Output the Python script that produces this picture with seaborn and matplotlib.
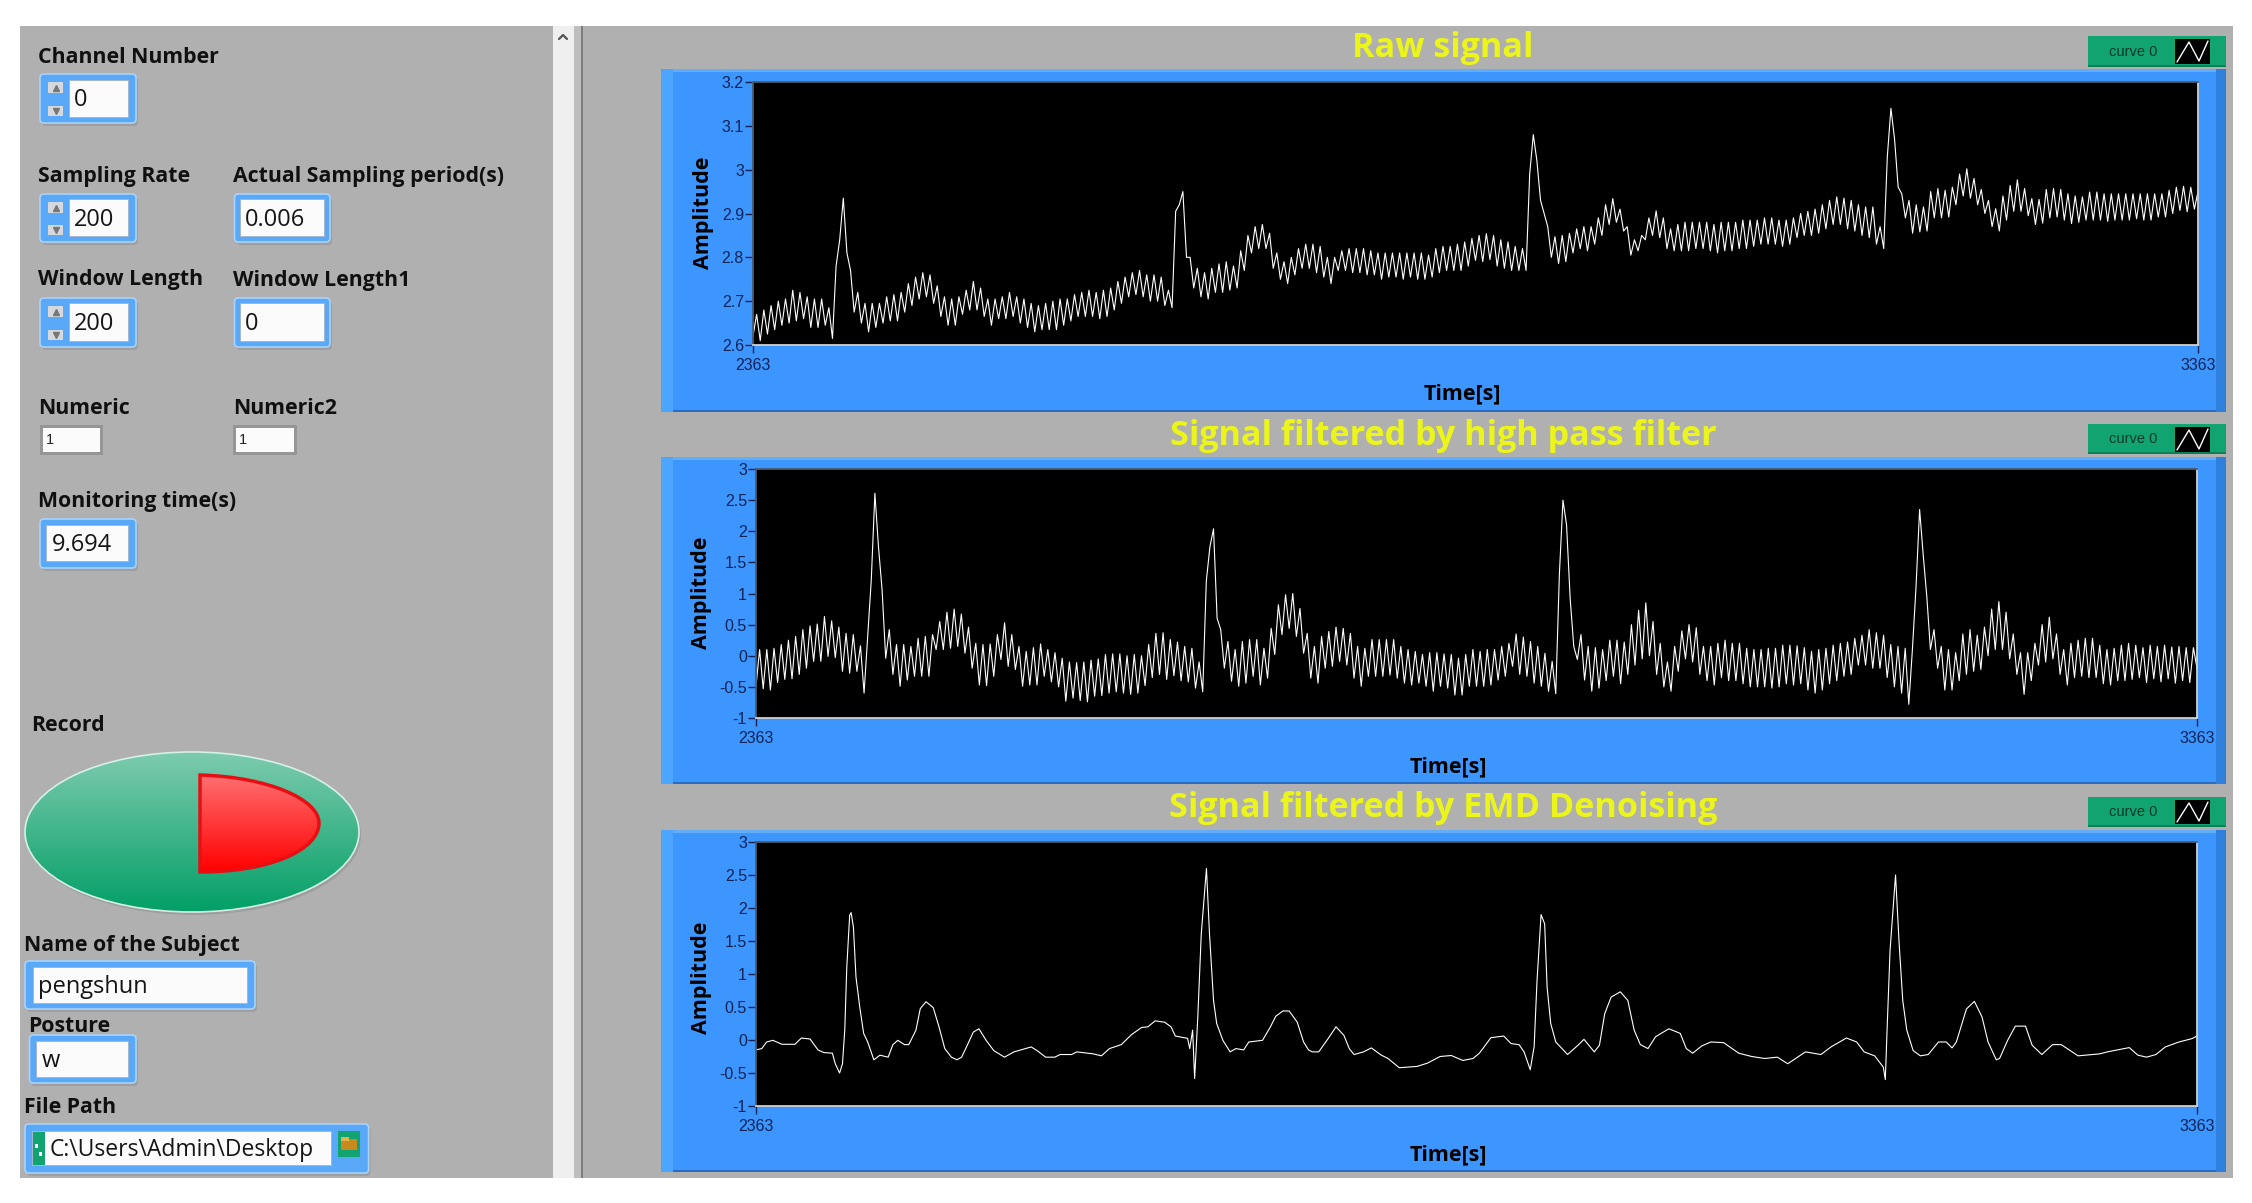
import numpy as np
import pandas as pd
import matplotlib
matplotlib.use("Agg")
import matplotlib.pyplot as plt
import seaborn as sns
from matplotlib.patches import Rectangle, FancyBboxPatch, Ellipse, PathPatch
from matplotlib.path import Path

sns.set_style("ticks")
plt.rcParams['font.family'] = ['Open Sans', 'DejaVu Sans']

W, H = 2252, 1203

# samples of the raw signal, evenly spaced over the time axis
raw_signal = [
    2.62, 2.67, 2.61, 2.68, 2.625, 2.69, 2.635, 2.70, 2.645, 2.705, 2.65, 2.725, 2.655, 2.72, 2.66, 2.71, 2.64, 2.705, 2.64, 2.705,
    2.645, 2.685, 2.615, 2.78, 2.84, 2.935, 2.81, 2.77, 2.675, 2.72, 2.65, 2.695, 2.63, 2.695, 2.64, 2.695, 2.65, 2.71, 2.655, 2.715,
    2.655, 2.72, 2.675, 2.74, 2.69, 2.755, 2.705, 2.765, 2.71, 2.76, 2.695, 2.735, 2.665, 2.71, 2.645, 2.705, 2.645, 2.71, 2.67, 2.725,
    2.68, 2.745, 2.68, 2.73, 2.665, 2.705, 2.645, 2.705, 2.66, 2.71, 2.66, 2.72, 2.665, 2.71, 2.65, 2.705, 2.64, 2.695, 2.63, 2.69,
    2.635, 2.695, 2.635, 2.70, 2.635, 2.705, 2.645, 2.705, 2.655, 2.715, 2.665, 2.72, 2.665, 2.725, 2.665, 2.72, 2.66, 2.725, 2.665, 2.73,
    2.68, 2.745, 2.695, 2.755, 2.71, 2.765, 2.715, 2.77, 2.71, 2.76, 2.70, 2.76, 2.70, 2.755, 2.69, 2.725, 2.685, 2.905, 2.92, 2.95,
    2.80, 2.80, 2.73, 2.775, 2.71, 2.765, 2.705, 2.775, 2.72, 2.785, 2.72, 2.79, 2.725, 2.78, 2.73, 2.815, 2.77, 2.85, 2.81, 2.87,
    2.82, 2.875, 2.82, 2.855, 2.775, 2.81, 2.75, 2.79, 2.74, 2.80, 2.76, 2.82, 2.775, 2.83, 2.775, 2.83, 2.765, 2.825, 2.755, 2.80,
    2.74, 2.80, 2.77, 2.815, 2.77, 2.82, 2.765, 2.82, 2.765, 2.82, 2.76, 2.815, 2.76, 2.81, 2.75, 2.81, 2.755, 2.81, 2.755, 2.81,
    2.75, 2.81, 2.755, 2.81, 2.75, 2.81, 2.75, 2.805, 2.755, 2.82, 2.765, 2.825, 2.77, 2.825, 2.77, 2.83, 2.77, 2.835, 2.78, 2.843,
    2.793, 2.85, 2.79, 2.854, 2.795, 2.85, 2.78, 2.84, 2.775, 2.835, 2.77, 2.825, 2.77, 2.82, 2.77, 2.99, 3.08, 3.02, 2.93, 2.90,
    2.87, 2.80, 2.847, 2.786, 2.85, 2.79, 2.855, 2.81, 2.865, 2.82, 2.87, 2.815, 2.87, 2.83, 2.89, 2.85, 2.92, 2.875, 2.934, 2.88,
    2.91, 2.86, 2.87, 2.805, 2.84, 2.815, 2.85, 2.84, 2.89, 2.85, 2.906, 2.845, 2.89, 2.82, 2.865, 2.815, 2.875, 2.815, 2.88, 2.815,
    2.88, 2.82, 2.88, 2.82, 2.88, 2.815, 2.875, 2.81, 2.88, 2.815, 2.88, 2.815, 2.88, 2.82, 2.885, 2.82, 2.885, 2.825, 2.885, 2.83,
    2.89, 2.83, 2.89, 2.83, 2.885, 2.825, 2.885, 2.83, 2.89, 2.845, 2.90, 2.85, 2.905, 2.85, 2.91, 2.855, 2.92, 2.865, 2.93, 2.875,
    2.938, 2.875, 2.935, 2.865, 2.93, 2.86, 2.92, 2.85, 2.915, 2.845, 2.915, 2.83, 2.87, 2.82, 3.03, 3.14, 3.07, 2.96, 2.945, 2.89,
    2.93, 2.855, 2.92, 2.858, 2.915, 2.86, 2.95, 2.89, 2.957, 2.89, 2.953, 2.892, 2.96, 2.92, 2.99, 2.94, 3.002, 2.935, 2.98, 2.92,
    2.955, 2.90, 2.93, 2.87, 2.911, 2.86, 2.94, 2.885, 2.964, 2.905, 2.977, 2.905, 2.957, 2.895, 2.934, 2.875, 2.932, 2.878, 2.955, 2.89,
    2.957, 2.892, 2.955, 2.885, 2.945, 2.877, 2.94, 2.88, 2.938, 2.885, 2.949, 2.885, 2.949, 2.885, 2.945, 2.882, 2.945, 2.885, 2.945, 2.885,
    2.945, 2.885, 2.945, 2.888, 2.945, 2.885, 2.945, 2.885, 2.945, 2.892, 2.945, 2.892, 2.953, 2.90, 2.96, 2.907, 2.962, 2.904, 2.96, 2.91,
    2.95,
]

# samples after the high pass filter
highpass_signal = [
    -0.49, 0.10, -0.53, 0.10, -0.55, 0.12, -0.43, 0.18, -0.38, 0.25, -0.37, 0.31, -0.30, 0.42, -0.20, 0.48, -0.09, 0.51, -0.09, 0.63,
    -0.01, 0.56, -0.03, 0.46, -0.25, 0.36, -0.28, 0.34, -0.25, 0.16, -0.60, 0.31, 1.22, 2.61, 1.75, 1.06, -0.04, 0.42, -0.30, 0.18,
    -0.49, 0.18, -0.39, 0.15, -0.33, 0.28, -0.33, 0.31, -0.33, 0.34, 0.10, 0.55, 0.10, 0.70, 0.12, 0.75, 0.15, 0.67, 0.04, 0.46,
    -0.20, 0.20, -0.47, 0.18, -0.48, 0.19, -0.33, 0.34, -0.06, 0.53, -0.17, 0.34, -0.22, 0.15, -0.49, 0.07, -0.47, 0.13, -0.47, 0.19,
    -0.33, 0.10, -0.42, 0.05, -0.50, -0.04, -0.73, -0.10, -0.68, -0.11, -0.72, -0.10, -0.74, -0.07, -0.65, -0.05, -0.64, 0.02, -0.60, 0.03,
    -0.58, 0.03, -0.60, 0.00, -0.62, 0.02, -0.60, 0.00, -0.48, 0.18, -0.35, 0.36, -0.30, 0.37, -0.38, 0.26, -0.32, 0.22, -0.40, 0.15,
    -0.42, 0.12, -0.52, -0.10, -0.58, 1.20, 1.75, 2.04, 0.60, 0.42, -0.20, 0.23, -0.41, 0.10, -0.49, 0.23, -0.44, 0.26, -0.33, 0.26,
    -0.47, 0.12, -0.36, 0.44, 0.02, 0.82, 0.34, 0.98, 0.44, 1.00, 0.31, 0.76, 0.04, 0.36, -0.36, 0.15, -0.44, 0.31, -0.20, 0.39,
    -0.17, 0.46, -0.09, 0.44, -0.15, 0.36, -0.36, 0.15, -0.49, 0.12, -0.33, 0.26, -0.33, 0.26, -0.33, 0.26, -0.31, 0.26, -0.36, 0.15,
    -0.44, 0.10, -0.47, 0.07, -0.44, 0.02, -0.49, 0.05, -0.57, 0.05, -0.49, 0.03, -0.52, 0.02, -0.63, -0.04, -0.63, 0.02, -0.49, 0.10,
    -0.49, 0.07, -0.49, 0.10, -0.47, 0.10, -0.39, 0.15, -0.33, 0.20, -0.17, 0.35, -0.30, 0.30, -0.33, 0.23, -0.44, 0.15, -0.49, 0.04,
    -0.57, -0.09, -0.61, 1.30, 2.50, 2.10, 0.92, 0.15, -0.06, 0.34, -0.39, 0.15, -0.57, 0.13, -0.52, 0.10, -0.40, 0.25, -0.33, 0.25,
    -0.45, 0.22, -0.30, 0.50, -0.15, 0.73, -0.05, 0.85, 0.00, 0.55, -0.30, 0.20, -0.50, -0.10, -0.57, 0.15, -0.25, 0.40, -0.05, 0.50,
    -0.10, 0.45, -0.30, 0.15, -0.40, 0.15, -0.47, 0.20, -0.35, 0.25, -0.40, 0.20, -0.40, 0.20, -0.45, 0.12, -0.50, 0.10, -0.50, 0.10,
    -0.50, 0.12, -0.52, 0.12, -0.50, 0.17, -0.45, 0.17, -0.47, 0.16, -0.45, 0.13, -0.55, 0.07, -0.60, 0.10, -0.55, 0.12, -0.45, 0.17,
    -0.40, 0.20, -0.33, 0.22, -0.30, 0.28, -0.15, 0.33, -0.15, 0.42, -0.20, 0.37, -0.20, 0.33, -0.35, 0.18, -0.50, 0.15, -0.60, 0.12,
    -0.78, 0.10, 1.10, 2.35, 1.62, 0.95, 0.10, 0.42, -0.20, 0.15, -0.55, 0.10, -0.55, 0.05, -0.40, 0.35, -0.30, 0.42, -0.25, 0.33,
    -0.22, 0.46, 0.00, 0.75, 0.10, 0.87, 0.10, 0.70, -0.05, 0.35, -0.30, 0.05, -0.62, 0.05, -0.40, 0.20, -0.15, 0.50, -0.10, 0.62,
    -0.05, 0.35, -0.30, 0.10, -0.47, 0.20, -0.35, 0.25, -0.33, 0.28, -0.35, 0.28, -0.35, 0.17, -0.45, 0.10, -0.47, 0.12, -0.40, 0.17,
    -0.40, 0.20, -0.38, 0.17, -0.35, 0.13, -0.43, 0.17, -0.37, 0.15, -0.42, 0.17, -0.37, 0.14, -0.44, 0.15, -0.40, 0.13, -0.43, 0.13,
    -0.20,
]

# EMD output, read as offset from the start of the axis and amplitude
emd_offset = [
    0, 4, 7.4, 11.7, 18, 27, 31.5, 37.5, 43, 47, 53, 55, 58, 60, 61.6, 63, 65, 66, 67.6, 69.4,
    72, 74.7, 77.5, 81.8, 86, 91.7, 95, 98.4, 103, 106, 111, 114, 118, 123, 127, 131, 135.6, 139.5, 142.7, 146.6,
    150.8, 154.7, 159.7, 165, 172.4, 179, 191, 195, 201, 207.4, 211, 219, 222.7, 234, 239.7, 245.3, 253.5, 260.5, 267.6, 272,
    277, 283.5, 288, 291, 299.5, 301, 303, 304.4, 306.6, 309, 312.6, 314.7, 317.5, 319.7, 324, 329, 333, 338.4, 342, 351.5,
    357, 360.7, 365.7, 370, 375.6, 380, 383.4, 386, 390.5, 397, 402.5, 408, 411.7, 415, 421.6, 427, 434, 438.6, 446.4, 458.8,
    466, 474.7, 482.5, 490.5, 497.6, 502, 510, 518.9, 524, 529.5, 533, 537.3, 540, 542, 544.8, 547.3, 549, 551.5, 555, 563.2,
    570.4, 574.6, 581.7, 585.3, 589, 593.4, 599.8, 605, 609.4, 613.7, 619, 624.3, 633.5, 641.4, 645.6, 650, 656.3, 662.6, 671.5, 682,
    691, 700, 708.8, 716, 728.3, 739, 746, 756.7, 763.8, 769, 776.3, 782.3, 783.7, 785, 787, 790.8, 793.3, 795.8, 798.6, 803,
    808, 813.5, 820.6, 826, 830, 833, 840, 845.5, 850.8, 855, 860.7, 863, 868.6, 873.9, 881, 885.6, 892.3, 899.8, 905.8, 917.5,
    932.5, 937.8, 953, 959, 965, 971.5, 978, 987.5, 996.4, 1000,
]
emd_signal = [
    -0.15, -0.13, -0.03, -0.005, -0.065, -0.065, 0.03, 0.015, -0.15, -0.19, -0.20, -0.36, -0.50, -0.36, 0.15, 1.10, 1.89, 1.93, 1.71, 0.95,
    0.50, 0.10, -0.03, -0.30, -0.23, -0.26, -0.07, -0.005, -0.07, -0.07, 0.15, 0.475, 0.58, 0.49, 0.20, -0.13, -0.26, -0.30, -0.26, -0.08,
    0.12, 0.17, -0.005, -0.16, -0.26, -0.18, -0.105, -0.16, -0.26, -0.26, -0.22, -0.22, -0.18, -0.21, -0.24, -0.13, -0.07, 0.08, 0.19, 0.20,
    0.29, 0.27, 0.20, 0.06, 0.025, -0.13, 0.15, -0.585, 0.35, 1.61, 2.60, 1.61, 0.60, 0.25, -0.005, -0.18, -0.13, -0.15, -0.03, -0.005,
    0.20, 0.36, 0.44, 0.44, 0.27, -0.03, -0.15, -0.18, -0.18, 0.02, 0.20, 0.07, -0.13, -0.22, -0.18, -0.12, -0.23, -0.28, -0.42, -0.40,
    -0.35, -0.25, -0.235, -0.31, -0.28, -0.20, 0.035, 0.06, -0.055, -0.07, -0.18, -0.45, -0.10, 0.90, 1.90, 1.76, 0.80, 0.25, -0.03, -0.22,
    -0.08, 0.01, -0.18, -0.08, 0.40, 0.65, 0.73, 0.60, 0.15, -0.07, -0.13, 0.05, 0.17, 0.10, -0.13, -0.20, -0.09, -0.03, -0.04, -0.20,
    -0.25, -0.28, -0.26, -0.36, -0.18, -0.22, -0.105, 0.03, -0.03, -0.18, -0.24, -0.41, -0.60, 0.20, 1.36, 2.50, 1.46, 0.60, 0.15, -0.16,
    -0.24, -0.22, -0.03, -0.03, -0.12, -0.03, 0.47, 0.585, 0.35, -0.03, -0.30, -0.28, -0.005, 0.21, 0.21, -0.08, -0.22, -0.07, -0.07, -0.24,
    -0.21, -0.18, -0.115, -0.23, -0.26, -0.22, -0.105, -0.03, 0.02, 0.06,
]

time_start = 2363
time_end = 3363
raw_ticks = [2.6, 2.7, 2.8, 2.9, 3, 3.1, 3.2]
raw_tick_labels = ['2.6', '2.7', '2.8', '2.9', '3', '3.1', '3.2']
filt_ticks = [-1, -0.5, 0, 0.5, 1, 1.5, 2, 2.5, 3]
filt_tick_labels = ['-1', '-0.5', '0', '0.5', '1', '1.5', '2', '2.5', '3']

titles = ['Raw signal', 'Signal filtered by high pass filter', 'Signal filtered by EMD Denoising']

GRAY = '#b0b0b0'
BLUE = '#3c96fd'
NAVY = '#0f2358'
YELLOW = '#ecf51a'
GREEN = '#12a470'
LABEL_KW = dict(family=['Open Sans', 'DejaVu Sans'], fontsize=15.3, fontweight='bold', color='#101010', va='center')
VALUE_KW = dict(family=['Open Sans', 'DejaVu Sans'], fontsize=17, color='#151515', va='center')

fig = plt.figure(figsize=(W / 100, H / 100), dpi=100, facecolor='white')

# full figure layer in pixel units for the panel widgets
bg = fig.add_axes([0, 0, 1, 1], zorder=0)
bg.set_xlim(0, W)
bg.set_ylim(H, 0)
bg.axis('off')


def rect(x0, y0, x1, y1, color, z=1, **kw):
    bg.add_patch(Rectangle((x0, y0), x1 - x0, y1 - y0, facecolor=color, edgecolor='none', zorder=z, **kw))


def gradient(extent, top, bottom, clip, z):
    grad = np.linspace(0, 1, 128)[:, None, None]
    rgb = (1 - grad) * np.array(matplotlib.colors.to_rgb(top)) + grad * np.array(matplotlib.colors.to_rgb(bottom))
    im = bg.imshow(rgb, extent=extent, aspect='auto', zorder=z, interpolation='bilinear')
    im.set_clip_path(clip)


def field(x0, y0, x1, y1, ix0, iy0, ix1, iy1, text, tx, spinner=False):
    # shadow, blue frame, white entry box
    bg.add_patch(FancyBboxPatch((x0 + 2, y0 + 3), x1 - x0, y1 - y0, boxstyle='round,pad=0,rounding_size=4',
                                facecolor='#808080', alpha=0.35, edgecolor='none', zorder=2))
    bg.add_patch(FancyBboxPatch((x0, y0), x1 - x0, y1 - y0, boxstyle='round,pad=0,rounding_size=4',
                                facecolor='#5aa8f8', edgecolor='#a9d3fb', linewidth=1.2, zorder=3))
    rect(ix0 - 1.5, iy0 - 1.5, ix1 + 1, iy1 + 1, '#a3b8d0', z=4)
    rect(ix0, iy0, ix1, iy1, '#fbfbfb', z=5)
    bg.text(tx - 1, (iy0 + iy1) / 2 + 1.5, text, zorder=6, **VALUE_KW)
    if spinner:
        for by0, by1, mark in [(y0 + 8, y0 + 19, '^'), (y1 - 17, y1 - 7, 'v')]:
            rect(x0 + 8, by0, x0 + 23, by1, '#d5d8dc', z=4)
            bg.plot([x0 + 15.5], [(by0 + by1) / 2], marker=mark, ms=4, color='#777777', zorder=5)


def small_field(x0, y0, x1, y1, text):
    rect(x0, y0, x1, y1, '#969696', z=2)
    rect(x0 + 3, y0 + 3, x1 - 3, y1 - 3, '#fbfbfb', z=3)
    bg.text(x0 + 6, (y0 + y1) / 2, text, family='Liberation Sans', fontsize=10.5, color='#222222', va='center', zorder=4)


def plot_legend(y0, y1, iy0, iy1):
    rect(2088, y0, 2226, y1, GREEN, z=2)
    rect(2088, y1 - 2, 2226, y1, '#0d7f56', z=3)
    bg.text(2133, (y0 + y1) / 2, 'curve 0', family='Liberation Sans', fontsize=10.5, color='#083a2a',
            ha='center', va='center', zorder=4)
    rect(2175, iy0, 2210, iy1, 'black', z=4)
    bg.plot([2177, 2189, 2199, 2208], [iy1 - 2, iy0 + 3, iy1 - 3, iy0 + 2], color='white', lw=1, zorder=5)


# backgrounds
rect(20, 26, 2233, 1178, GRAY)
rect(553, 26, 574, 1178, '#efefef', z=1.5)
rect(574, 26, 583, 1178, '#bdbdbd', z=1.5)
rect(581, 26, 583, 1178, '#7d7d7d', z=1.5)
bg.plot([559, 563, 567], [39, 35, 39], color='#555555', lw=1.6, zorder=2)

# left hand controls
for lx, ly, s in [(38.5, 57.5, 'Channel Number'), (38.5, 176.5, 'Sampling Rate'), (233, 176.5, 'Actual Sampling period(s)'),
                  (38.5, 280, 'Window Length'), (233, 280.5, 'Window Length1'), (38.5, 409, 'Numeric'), (233, 409, 'Numeric2'),
                  (38.5, 502, 'Monitoring time(s)'), (31.5, 725.5, 'Record'), (24, 945.5, 'Name of the Subject'),
                  (28, 1027, 'Posture'), (24, 1107.5, 'File Path')]:
    bg.text(lx, ly, s, zorder=6, **LABEL_KW)

field(40, 74, 136, 123, 70, 81, 128, 117, '0', 75, spinner=True)
field(40, 194, 136, 242, 70, 200, 128, 236, '200', 75, spinner=True)
field(234.5, 194, 330, 242, 241, 200, 324, 236, '0.006', 246)
field(40, 298, 136, 347, 70, 304, 128, 341, '200', 75, spinner=True)
field(234.5, 298, 330, 347, 241, 304, 324, 341, '0', 246)
small_field(39.5, 425, 103, 455, '1')
small_field(232.5, 425, 297, 455, '1')
field(40, 519, 136, 568, 47, 526, 128, 561, '9.694', 52.5)
field(25, 961, 255, 1009, 34, 968, 247, 1003, 'pengshun', 39.5)
field(29.5, 1035, 136, 1083, 37, 1042, 128, 1077, 'w', 43)
field(25, 1124, 368.6, 1173, 33, 1132, 331, 1165, '', 50)
rect(33, 1132, 45, 1165, GREEN, z=6)
rect(35, 1144, 38, 1148, 'white', z=7)
rect(39, 1152, 42, 1156, 'white', z=7)
bg.text(50, 1150.5, 'C:\\Users\\Admin\\Desktop', zorder=7, **{**VALUE_KW, 'fontsize': 16.5})
rect(338, 1131, 360, 1157, GREEN, z=6)
rect(341, 1139, 357, 1150, '#c98a1e', z=7)
rect(341, 1137, 349, 1141, '#e6b24a', z=7)

# record button
oval = Ellipse((192, 832), 334, 160, facecolor='none', edgecolor='#d5f0e6', lw=1.2, zorder=4)
bg.add_patch(Ellipse((194, 835), 334, 160, facecolor='#7f7f7f', alpha=0.35, edgecolor='none', zorder=2))
bg.add_patch(oval)
gradient((25, 359, 912, 752), '#7dcbae', '#039f67', oval, 3)
d_verts = [(200, 775), (270, 777), (319, 800), (319, 823), (319, 850), (270, 872), (200, 872), (200, 775)]
d_path = Path(d_verts, [Path.MOVETO, Path.CURVE4, Path.CURVE4, Path.CURVE4, Path.CURVE4, Path.CURVE4, Path.CURVE4, Path.CLOSEPOLY])
d_shape = PathPatch(d_path, facecolor='none', edgecolor='#e80f14', lw=2.5, zorder=6)
bg.add_patch(d_shape)
gradient((200, 319, 872, 775), '#ff6f70', '#ff0000', d_shape, 5)
bg.set_xlim(0, W)
bg.set_ylim(H, 0)

# graph frames, axes rectangle in pixels
frames = [
    dict(top=69, bottom=412, ax=(753, 82, 2198, 345), ylim=(2.6, 3.2), ticks=raw_ticks, labels=raw_tick_labels,
         title_y=48, legend=(36, 67, 39, 64), xlab=(1462, 393.5), ylab=(703, 213)),
    dict(top=457, bottom=784, ax=(756, 469, 2197, 718), ylim=(-1, 3), ticks=filt_ticks, labels=filt_tick_labels,
         title_y=436, legend=(424, 454, 427, 452), xlab=(1448, 766.5), ylab=(701, 593)),
    dict(top=830, bottom=1172, ax=(756, 842, 2197, 1106), ylim=(-1, 3), ticks=filt_ticks, labels=filt_tick_labels,
         title_y=808, legend=(797, 827, 800, 824), xlab=(1448, 1154.5), ylab=(701, 978)),
]

n_raw = len(raw_signal)
n_hp = len(highpass_signal)
series = [
    pd.DataFrame({'t': np.linspace(time_start, time_end, n_raw), 'v': raw_signal}),
    pd.DataFrame({'t': np.linspace(time_start, time_end, n_hp), 'v': highpass_signal}),
    pd.DataFrame({'t': time_start + np.array(emd_offset), 'v': emd_signal}),
]

for frame, title, df in zip(frames, titles, series):
    rect(661, frame['top'], 2226, frame['bottom'], BLUE, z=1.5)
    rect(661, frame['top'], 2226, frame['top'] + 3, '#62adf5', z=1.6)
    rect(661, frame['bottom'] - 2, 2226, frame['bottom'], '#2a6cc2', z=1.6)
    rect(661, frame['top'], 673, frame['bottom'], '#4ca6ff', z=1.6)
    rect(2216, frame['top'], 2226, frame['bottom'], '#2f7fdc', z=1.6)
    bg.text(1443, frame['title_y'], title, family=['Open Sans', 'DejaVu Sans'], fontsize=24.6, fontweight='bold',
            color=YELLOW, ha='center', va='center', zorder=6)
    plot_legend(*frame['legend'])

    x0, y0, x1, y1 = frame['ax']
    ax = fig.add_axes([x0 / W, 1 - y1 / H, (x1 - x0) / W, (y1 - y0) / H], zorder=2)
    ax.set_facecolor('black')
    sns.lineplot(data=df, x='t', y='v', ax=ax, color='white', linewidth=0.8, estimator=None, sort=False)
    ax.set_xlim(time_start, time_end)
    ax.set_ylim(*frame['ylim'])
    ax.set_xticks([time_start, time_end])
    ax.set_yticks(frame['ticks'])
    ax.set_yticklabels(frame['labels'])
    ax.tick_params(axis='y', length=6, width=1, color=NAVY, labelcolor=NAVY, pad=0.5, labelsize=11.5)
    ax.tick_params(axis='x', length=6, width=1, color=NAVY, labelcolor=NAVY, pad=3.5, labelsize=11.5)
    for lab in ax.get_xticklabels() + ax.get_yticklabels():
        lab.set_family('Liberation Sans')
    for side, col in [('top', '#4a5a70'), ('left', '#4a5a70'), ('bottom', '#d0d0d0'), ('right', '#d0d0d0')]:
        ax.spines[side].set_color(col)
        ax.spines[side].set_linewidth(1.3)
    ax.set_xlabel('Time[s]', family=['Open Sans', 'DejaVu Sans'], fontsize=15.5, fontweight='bold', color='black', va='center')
    ax.set_ylabel('Amplitude', family=['Open Sans', 'DejaVu Sans'], fontsize=15.5, fontweight='bold', color='black', va='center')
    ax.xaxis.set_label_coords((frame['xlab'][0] - x0) / (x1 - x0), -(frame['xlab'][1] - y1) / (y1 - y0))
    ax.yaxis.set_label_coords((frame['ylab'][0] - x0) / (x1 - x0), (y1 - frame['ylab'][1]) / (y1 - y0))

fig.savefig('out.png', dpi=100, facecolor='white')
